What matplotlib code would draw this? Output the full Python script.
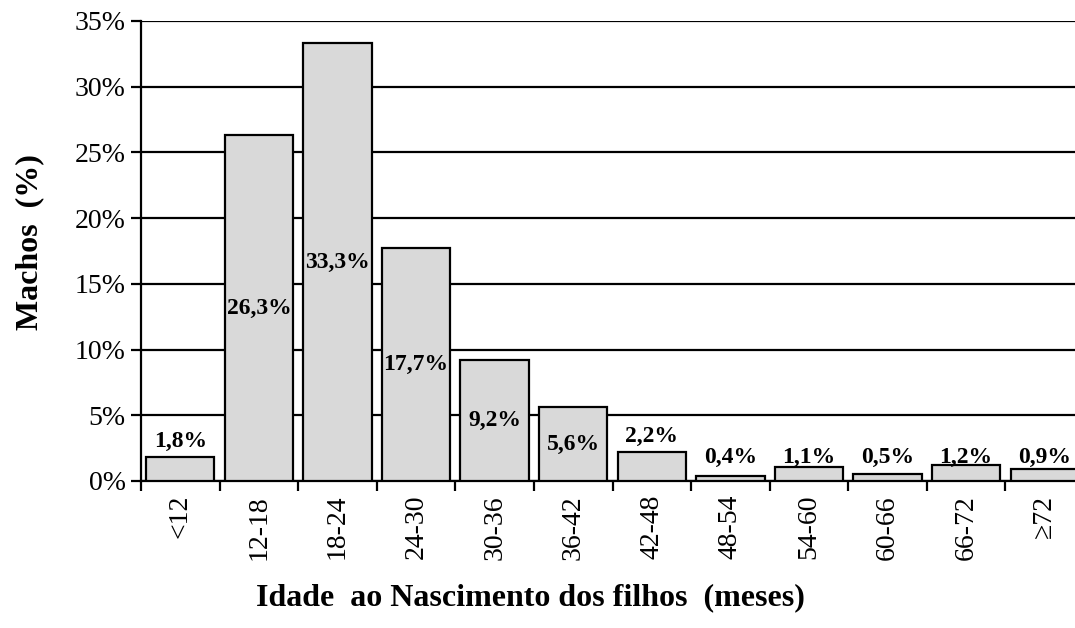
import numpy as np
import matplotlib
matplotlib.use("Agg")
import matplotlib.pyplot as plt

plt.rcParams['font.family'] = ['Liberation Serif', 'DejaVu Serif']

categories = ["<12", "12-18", "18-24", "24-30", "30-36", "36-42",
              "42-48", "48-54", "54-60", "60-66", "66-72", "\u226572"]
values = [1.8, 26.3, 33.3, 17.7, 9.2, 5.6, 2.2, 0.4, 1.1, 0.5, 1.2, 0.9]
labels = ["1,8%", "26,3%", "33,3%", "17,7%", "9,2%", "5,6%",
          "2,2%", "0,4%", "1,1%", "0,5%", "1,2%", "0,9%"]
# bars whose label sits in the middle of the bar
inside = [False, True, True, True, True, True,
          False, False, False, False, False, False]

W, H = 1075, 628
fig = plt.figure(figsize=(W / 100, H / 100), dpi=100)
# axes run a little past the right edge, like the original (last bar is cut)
ax = fig.add_axes([141 / W, 1 - 481 / H, 943 / W, 460 / H])

x = np.arange(len(values))
ax.bar(x, values, width=0.87, color="#d9d9d9", edgecolor="black",
       linewidth=1.6, zorder=3)

for xi, v, lab, ins in zip(x, values, labels, inside):
    if ins:
        ax.text(xi, v / 2, lab, ha="center", va="center",
                fontsize=17, fontweight="bold", zorder=4)
    else:
        ypos = v + 0.8 if v >= 1.5 else 1.35
        ax.text(xi, ypos, lab, ha="center", va="baseline",
                fontsize=17, fontweight="bold", zorder=4)

ax.set_xlim(-0.5, len(values) - 0.5)
ax.set_ylim(0, 35)
ax.set_yticks(np.arange(0, 36, 5))
ax.set_yticklabels(["%d%%" % t for t in range(0, 36, 5)], fontsize=20)
ax.yaxis.grid(True, color="black", linewidth=1.6, zorder=0)

# category ticks on the boundaries, names in between
ax.set_xticks(np.arange(-0.5, len(values), 1.0))
ax.set_xticklabels([])
ax.set_xticks(x, minor=True)
ax.set_xticklabels(categories, minor=True, rotation=90, fontsize=20)
ax.tick_params(axis="x", which="major", length=7, width=1.6, direction="out")
ax.tick_params(axis="x", which="minor", length=0, pad=10)
ax.tick_params(axis="y", length=7, width=1.6, pad=4)

for s in ["top", "right"]:
    ax.spines[s].set_visible(False)
ax.spines["left"].set_linewidth(1.6)
ax.spines["bottom"].set_linewidth(1.6)

fig.text(30 / W, 1 - 242 / H, "Machos  (%)", rotation=90, ha="center",
         va="center", fontsize=23, fontweight="bold")
fig.text(530 / W, 1 - 598 / H, "Idade  ao Nascimento dos filhos  (meses)",
         ha="center", va="center", fontsize=23, fontweight="bold")

fig.savefig("out.png", dpi=100)
